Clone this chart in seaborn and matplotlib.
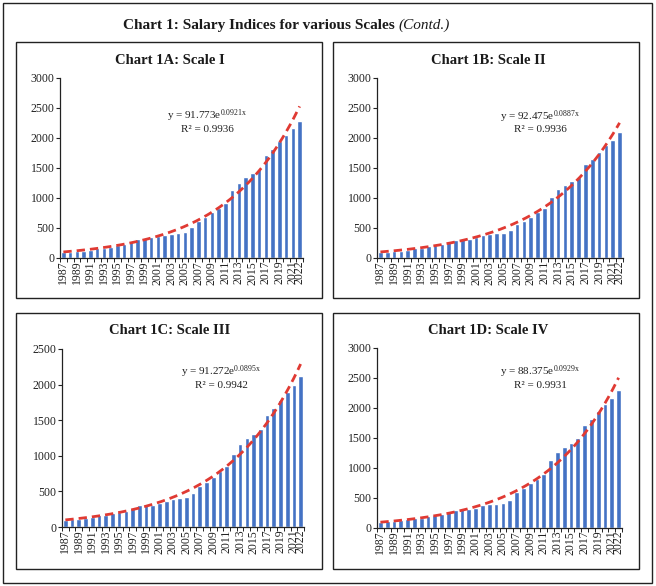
import numpy as np
import pandas as pd
import matplotlib
matplotlib.use("Agg")
import matplotlib.pyplot as plt
import seaborn as sns
from matplotlib.patches import Rectangle
from matplotlib.ticker import FixedLocator

# ---------------- data ----------------
years = list(range(1987, 2023))
scale_i = [100, 105, 120, 125, 140, 170, 170, 185, 220, 230, 285, 320, 335, 350, 365, 385,
           405, 420, 440, 510, 620, 680, 760, 830, 920, 1135, 1250, 1350, 1415, 1485, 1715,
           1810, 1945, 2045, 2160, 2290]
scale_ii = [100, 105, 110, 125, 140, 170, 175, 200, 220, 240, 270, 305, 320, 325, 345, 380,
            395, 410, 425, 475, 575, 625, 690, 770, 840, 1020, 1150, 1220, 1285, 1350, 1565,
            1650, 1760, 1880, 1965, 2095]
scale_iii = [100, 115, 115, 130, 145, 175, 175, 195, 210, 230, 260, 305, 315, 315, 335, 370,
             390, 405, 415, 475, 570, 630, 700, 780, 850, 1030, 1160, 1245, 1300, 1370, 1580,
             1665, 1790, 1900, 1990, 2125]
scale_iv = [100, 120, 120, 130, 155, 170, 175, 195, 220, 240, 270, 305, 310, 325, 340, 385,
            395, 405, 420, 470, 600, 665, 750, 820, 905, 1135, 1265, 1345, 1415, 1495, 1710,
            1810, 1945, 2060, 2175, 2305]
titles = ["Chart 1A: Scale I", "Chart 1B: Scale II", "Chart 1C: Scale III", "Chart 1D: Scale IV"]
trend_a = [91.773, 92.475, 91.272, 88.375]
trend_b = ["0.0921", "0.0887", "0.0895", "0.0929"]
r_squared = ["0.9936", "0.9936", "0.9942", "0.9931"]
y_max = [3000, 3000, 2500, 3000]
y_step = 500
series = [scale_i, scale_ii, scale_iii, scale_iv]

# ---------------- style ----------------
sns.set_style("white")
plt.rcParams["font.family"] = ["Liberation Serif", "DejaVu Serif"]
plt.rcParams["mathtext.fontset"] = "custom"
plt.rcParams["mathtext.rm"] = "Liberation Serif"
plt.rcParams["mathtext.it"] = "Liberation Serif:italic"
plt.rcParams["mathtext.bf"] = "Liberation Serif:bold"
plt.rcParams["mathtext.default"] = "regular"

W, H = 656, 586
fig = plt.figure(figsize=(W / 100, H / 100), dpi=100)

def fx(px):
    return px / W

def fy(py):
    return 1 - py / H

# borders
fig.patches.append(Rectangle((fx(3), fy(583)), fx(649), 580 / H, transform=fig.transFigure,
                             fill=False, edgecolor="#222222", linewidth=1.0))
panel_boxes = [(16, 42, 322, 298), (333, 42, 639, 298), (16, 313, 322, 569), (333, 313, 639, 569)]
for (x0, y0, x1, y1) in panel_boxes:
    fig.patches.append(Rectangle((fx(x0), fy(y1)), fx(x1 - x0), (y1 - y0) / H,
                                 transform=fig.transFigure, fill=False,
                                 edgecolor="#222222", linewidth=1.0))

# main title
fig.text(fx(395), fy(25), "Chart 1: Salary Indices for various Scales", ha="right", va="center",
         fontsize=11, fontweight="bold", color="#1a1a1a")
fig.text(fx(398), fy(25), "(Contd.)", ha="left", va="center", fontsize=11, fontstyle="italic",
         color="#1a1a1a")

# axes positions in pixels: left, right, top(ymax), bottom(0)
axes_px = [(60, 303, 78, 258), (377, 623, 78, 258), (62, 304, 349, 527), (377, 622, 348, 528)]
title_px = [(170, 60), (488, 60), (170, 330), (488, 330)]
eq_px = [(207, 116, 129), (540, 117, 130), (221, 372, 385), (540, 372, 385)]

labels = [str(y) if (y % 2 == 1 or y == years[-1]) else "" for y in years]

for i in range(4):
    l, r, t, b = axes_px[i]
    ax = fig.add_axes([fx(l), fy(b), fx(r - l), (b - t) / H])
    df = pd.DataFrame({"year": [str(y) for y in years], "value": series[i]})
    sns.barplot(data=df, x="year", y="value", color="#4472C4", saturation=1, width=0.7, ax=ax)
    xs = np.linspace(0, len(years) - 1, 300)
    ax.plot(xs, trend_a[i] * np.exp(float(trend_b[i]) * (xs + 1)), color="#E03A33",
            linestyle=(0, (3, 1.8)), linewidth=2.0)
    ax.set_xlim(-0.5, len(years) - 0.5)
    ax.set_ylim(0, y_max[i])
    ax.set_yticks(np.arange(0, y_max[i] + 1, y_step))
    ax.set_xticks(range(len(years)))
    ax.set_xticklabels(labels, rotation=90, fontsize=8.5, color="#222222")
    ax.xaxis.set_minor_locator(FixedLocator(np.arange(-0.5, len(years), 1.0)))
    ax.tick_params(axis="y", labelsize=8.5, colors="#222222", length=3, width=0.8, direction="out",
                   left=True, pad=1)
    ax.tick_params(axis="x", which="major", length=0, pad=2)
    ax.tick_params(axis="x", which="minor", length=3, width=0.7, color="#222222",
                   direction="out", bottom=True)
    ax.set_xlabel("")
    ax.set_ylabel("")
    for s in ["top", "right"]:
        ax.spines[s].set_visible(False)
    for s in ["left", "bottom"]:
        ax.spines[s].set_color("#222222")
        ax.spines[s].set_linewidth(0.9)
    ax.set_facecolor("none")

    tx, ty = title_px[i]
    fig.text(fx(tx), fy(ty), titles[i], ha="center", va="center", fontsize=10.5,
             fontweight="bold", color="#1a1a1a")
    ex, ey1, ey2 = eq_px[i]
    fig.text(fx(ex), fy(ey1), f"y = {trend_a[i]}e$^{{{trend_b[i]}x}}$", ha="center",
             va="center", fontsize=8, color="#222222")
    fig.text(fx(ex), fy(ey2), f"R\u00b2 = {r_squared[i]}", ha="center", va="center",
             fontsize=8, color="#222222")

fig.savefig("out.png", dpi=100)
